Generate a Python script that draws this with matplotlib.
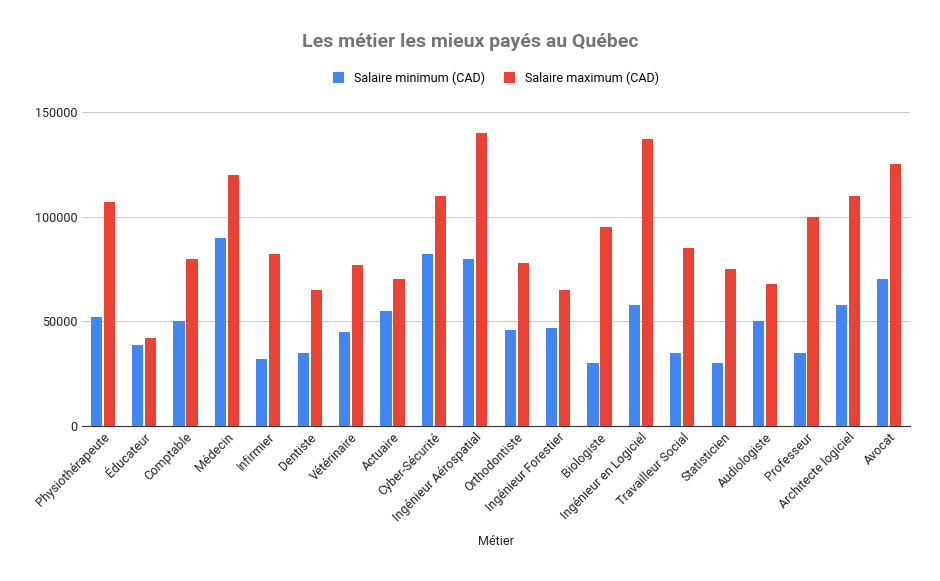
import matplotlib
matplotlib.use("Agg")
import matplotlib.pyplot as plt
import numpy as np

categories = ["Physiothérapeute","Éducateur","Comptable","Médecin","Infirmier","Dentiste","Vétérinaire","Actuaire","Cyber-Sécurité","Ingénieur Aérospatial","Orthodontiste","Ingénieur Forestier","Biologiste","Ingénieur en Logiciel","Travailleur Social","Statisticien","Audiologiste","Professeur","Architecte logiciel","Avocat"]
salaire_min = [52000,38500,50000,90000,32000,35000,45000,55000,82000,80000,46000,47000,30000,58000,35000,30000,50000,35000,58000,70000]
salaire_max = [107000,42000,80000,120000,82000,65000,77000,70000,110000,140000,78000,65000,95000,137000,85000,75000,68000,100000,110000,125000]
yticks = [0,50000,100000,150000]

plt.rcParams["font.family"] = "Roboto"
fig = plt.figure(figsize=(9.4,5.81), dpi=100)
ax = fig.add_axes([82/940, 1-426/581, (910-82)/940, (426-112)/581])
x = np.arange(len(categories))
w = 0.27
ax.bar(x-w/2-0.02, salaire_min, w, color="#4285f4", label="Salaire minimum (CAD)", zorder=3)
ax.bar(x+w/2+0.02, salaire_max, w, color="#ea4335", label="Salaire maximum (CAD)", zorder=3)
ax.set_xlim(-0.5, len(categories)-0.5)
ax.set_ylim(0,150000)
ax.set_yticks(yticks)
ax.set_yticklabels([str(v) for v in yticks], fontsize=9, color="#222222")
ax.grid(axis="y", color="#cccccc", lw=0.8, zorder=0)
ax.set_xticks(x)
ax.set_xticklabels(categories, rotation=45, ha="right", rotation_mode="anchor", fontsize=9, color="#222222")
ax.tick_params(length=0)
for s in ["top","right","left"]:
    ax.spines[s].set_visible(False)
ax.spines["bottom"].set_color("#333333")
ax.set_xlabel("Métier", fontsize=9, color="#222222", labelpad=8)
fig.text(470/940, 1-42/581, "Les métier les mieux payés au Québec", ha="center", va="center", fontsize=14, fontweight="bold", color="#757575")
ax.legend(loc="center", bbox_to_anchor=(0.5, 1+(112-78)/314), ncol=2, frameon=False, fontsize=9, handlelength=0.9, handleheight=0.9, columnspacing=1.5)
fig.savefig("out.png", dpi=100)
